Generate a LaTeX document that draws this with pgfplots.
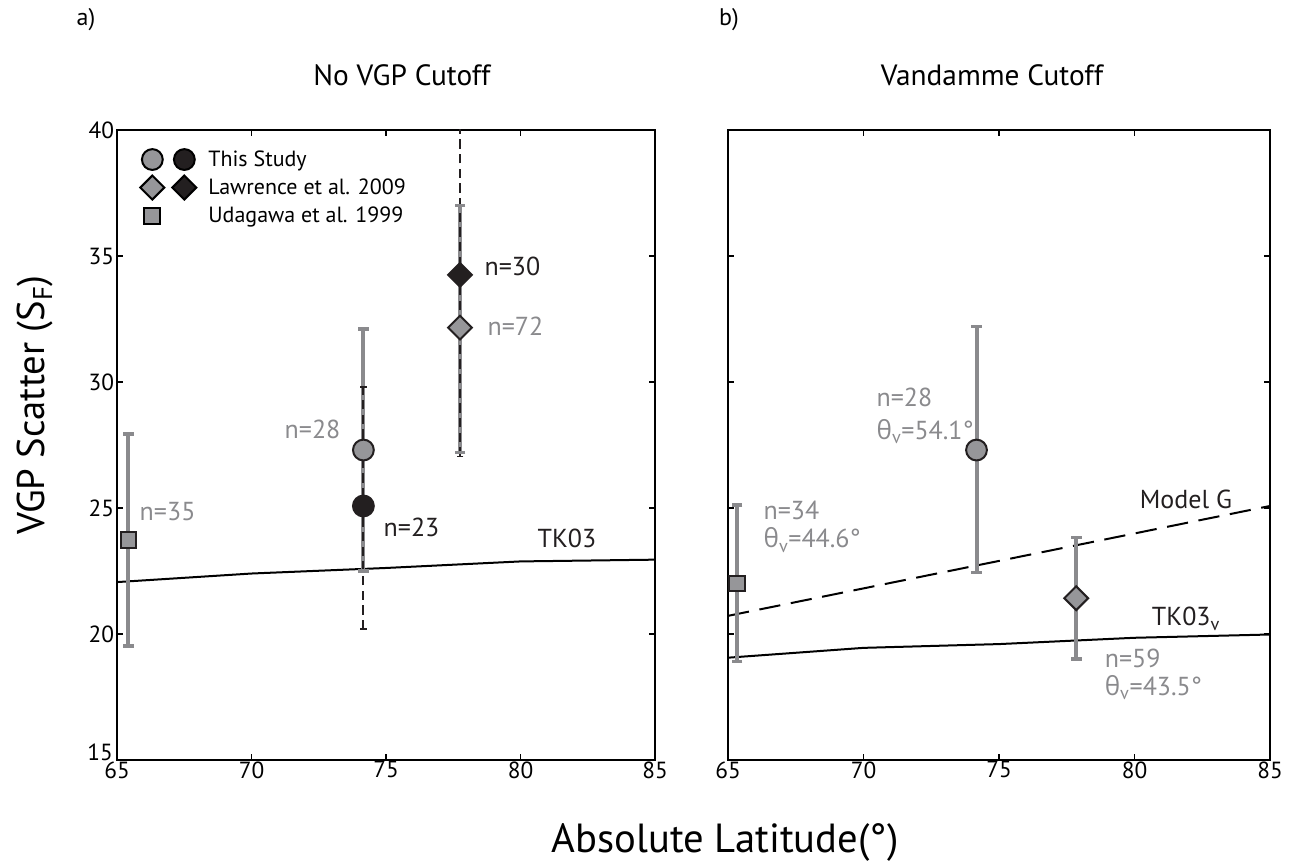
\documentclass[border=0pt]{standalone}
\usepackage{fontspec}
\setmainfont{PT Sans}
\newfontfamily\grk{Open Sans}
\usepackage{pgfplots}
\pgfplotsset{compat=1.18}
\definecolor{mygray}{RGB}{138,138,141}
\definecolor{mkgray}{RGB}{150,150,153}
\definecolor{mydark}{RGB}{35,31,32}
\newcommand{\tv}{{\grk θ}\textsubscript{v}}
\newcommand{\lbl}{\fontsize{19.5pt}{23pt}\selectfont}
\newcommand{\tkl}{\fontsize{17.5pt}{20pt}\selectfont}
\pgfplotsset{
 myaxis/.style={
  scale only axis, width=403.5pt, height=472.5pt,
  xmin=65,xmax=85,ymin=15,ymax=40,
  xtick={65,70,75,80,85}, ytick={20,25,30,35,40},
  extra y ticks={15},
  extra y tick style={yticklabel style={yshift=6pt, xshift=-1pt}},
  tick align=inside, major tick length=4.5pt,
  axis line style={line width=1.6pt, black},
  tick style={line width=1.2pt, black},
  tick label style={font=\tkl},
  xticklabel style={inner sep=1pt},
  yticklabel style={inner sep=2pt},
  /pgf/number format/assume math mode=true,
  clip=true,
 },
 errg/.style={mygray, line width=3pt, mark=-, mark size=4pt, mark options={solid, line width=2.6pt, mygray}, forget plot},
 errd/.style={mydark, line width=1.4pt, dash pattern=on 7pt off 4pt, mark=-, mark size=2.6pt, mark options={solid, line width=1.2pt, mydark}, forget plot},
}
\begin{document}
\begin{tikzpicture}
\path[use as bounding box] (0pt,0pt) rectangle (969pt,648.75pt);
% ---------- left panel
\begin{axis}[myaxis, at={(87.75pt,78.75pt)}, anchor=south west,
  legend style={at={(0.033,0.98)}, anchor=north west, draw=none, fill=none,
    font=\fontsize{16.5pt}{19pt}\selectfont, nodes={inner sep=0pt}, row sep=0pt},
  legend cell align=left]
\addlegendimage{legend image code/.code={
  \path[draw=none, fill=none] (-10pt,-10.5pt) rectangle (42pt,10.5pt);
  \draw[fill=mkgray, draw=black, line width=1.5pt] (0pt,0pt) circle (7.8pt);
  \draw[fill=mydark, draw=black, line width=1.5pt] (24pt,0pt) circle (7.8pt);}}
\addlegendentry{This Study}
\addlegendimage{legend image code/.code={
  \path[draw=none, fill=none] (-10pt,-10.5pt) rectangle (42pt,10.5pt);
  \draw[fill=mkgray, draw=black, line width=1.5pt] (0pt,9pt)--(9pt,0pt)--(0pt,-9pt)--(-9pt,0pt)--cycle;
  \draw[fill=mydark, draw=black, line width=1.5pt] (24pt,9pt)--(33pt,0pt)--(24pt,-9pt)--(15pt,0pt)--cycle;}}
\addlegendentry{Lawrence et al. 2009}
\addlegendimage{legend image code/.code={
  \path[draw=none, fill=none] (-10pt,-10.5pt) rectangle (42pt,10.5pt);
  \draw[fill=mkgray, draw=black, line width=1.5pt] (-6pt,-6pt) rectangle (6pt,6pt);}}
\addlegendentry{Udagawa et al. 1999}
% TK03
\addplot[black, line width=1.5pt, no marks, forget plot] coordinates {(65,22.06) (70,22.40) (75,22.62) (80,22.88) (85,22.95)};
% markers
\addplot[only marks, mark=square*, mark size=5.8pt, mark options={fill=mkgray, draw=mydark, line width=1.5pt}, forget plot] coordinates {(65.42,23.73)};
\addplot[only marks, mark=*, mark size=7.8pt, mark options={fill=mkgray, draw=mydark, line width=1.5pt}, forget plot] coordinates {(74.16,27.30)};
\addplot[only marks, mark=*, mark size=7.8pt, mark options={fill=mydark, draw=mydark, line width=1.5pt}, forget plot] coordinates {(74.16,25.08)};
\addplot[only marks, mark=square*, mark size=6.3pt, mark options={fill=mkgray, draw=mydark, line width=1.5pt, rotate=45}, forget plot] coordinates {(77.75,32.16)};
\addplot[only marks, mark=square*, mark size=6.3pt, mark options={fill=mydark, draw=mydark, line width=1.5pt, rotate=45}, forget plot] coordinates {(77.75,34.25)};
% error bars
\addplot[errg] coordinates {(65.42,19.53) (65.42,27.94)};
\addplot[errg] coordinates {(74.16,22.50) (74.16,32.10)};
\addplot[errg] coordinates {(77.75,27.20) (77.75,37.00)};
\addplot[errd] coordinates {(74.16,20.19) (74.16,29.81)};
\addplot[errd] coordinates {(77.75,27.04) (77.75,41.50)};
% labels
\node[anchor=west, text=mygray, font=\lbl] at (axis cs:65.67,24.85) {n=35};
\node[anchor=east, text=mygray, font=\lbl] at (axis cs:73.48,28.10) {n=28};
\node[anchor=west, text=mydark, font=\lbl] at (axis cs:74.74,24.23) {n=23};
\node[anchor=west, text=mydark, font=\lbl] at (axis cs:78.49,34.58) {n=30};
\node[anchor=west, text=mygray, font=\lbl] at (axis cs:78.60,32.22) {n=72};
\node[anchor=west, text=mydark, font=\lbl] at (axis cs:80.46,23.80) {TK03};
\end{axis}
% ---------- right panel
\begin{axis}[myaxis, at={(546pt,78.75pt)}, anchor=south west, width=406.5pt, yticklabels={}, extra y tick labels={}]
\addplot[black, line width=1.5pt, no marks, forget plot] coordinates {(65,19.06) (70,19.45) (75,19.60) (80,19.85) (85,19.98)};
\addplot[black, line width=1.5pt, no marks, dash pattern=on 16pt off 8pt, forget plot] coordinates {(65,20.72) (70,21.81) (75,22.90) (80,23.99) (85,25.08)};
\addplot[only marks, mark=square*, mark size=5.8pt, mark options={fill=mkgray, draw=mydark, line width=1.5pt}, forget plot] coordinates {(65.33,22.01)};
\addplot[only marks, mark=*, mark size=7.8pt, mark options={fill=mkgray, draw=mydark, line width=1.5pt}, forget plot] coordinates {(74.17,27.30)};
\addplot[only marks, mark=square*, mark size=6.3pt, mark options={fill=mkgray, draw=mydark, line width=1.5pt, rotate=45}, forget plot] coordinates {(77.85,21.42)};
\addplot[errg] coordinates {(65.33,18.90) (65.33,25.12)};
\addplot[errg] coordinates {(74.17,22.43) (74.17,32.20)};
\addplot[errg] coordinates {(77.85,19.00) (77.85,23.82)};
\node[anchor=west, text=mygray, font=\lbl] at (axis cs:70.31,29.37) {n=28};
\node[anchor=west, text=mygray, font=\lbl] at (axis cs:70.31,28.03) {\tv=54.1°};
\node[anchor=west, text=mygray, font=\lbl] at (axis cs:66.14,24.92) {n=34};
\node[anchor=west, text=mygray, font=\lbl] at (axis cs:66.14,23.73) {\tv=44.6°};
\node[anchor=west, text=mygray, font=\lbl] at (axis cs:78.73,19.05) {n=59};
\node[anchor=west, text=mygray, font=\lbl] at (axis cs:78.73,17.86) {\tv=43.5°};
\node[text=mydark, font=\lbl] at (axis cs:81.9,25.35) {Model G};
\node[text=mydark, font=\lbl] at (axis cs:81.9,20.60) {TK03\textsubscript{v}};
\end{axis}
% ---------- titles and axis labels
\node[font=\fontsize{22pt}{26pt}\selectfont] at (301.5pt,592.5pt) {No VGP Cutoff};
\node[font=\fontsize{22pt}{26pt}\selectfont] at (744pt,592.5pt) {Vandamme Cutoff};
\node[font=\fontsize{18pt}{21pt}\selectfont] at (64.5pt,633.75pt) {a)};
\node[font=\fontsize{18pt}{21pt}\selectfont] at (546.75pt,633.75pt) {b)};
\node[font=\fontsize{29pt}{34pt}\selectfont, rotate=90] at (26.25pt,345pt) {VGP Scatter (S\textsubscript{F})};
\node[font=\fontsize{30.5pt}{36pt}\selectfont] at (543.75pt,17pt) {Absolute Latitude(°)};
\end{tikzpicture}
\end{document}
